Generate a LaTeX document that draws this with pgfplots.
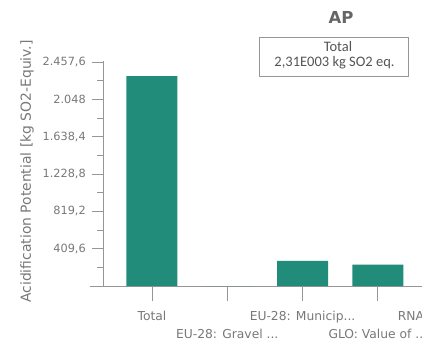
\documentclass[border=0pt]{standalone}
\usepackage{pgfplots}
\pgfplotsset{compat=1.18}
\usepackage{fontspec}
\setmainfont{DejaVu Sans}
\newfontfamily\boxfont{Carlito}
\definecolor{barcol}{RGB}{33,140,122}
\definecolor{txt}{RGB}{120,120,120}
\definecolor{axisgray}{RGB}{150,150,150}
\newcommand{\dd}{.\kern0pt.\kern0pt.}
\begin{document}
\begin{tikzpicture}
\useasboundingbox (0pt,0pt) rectangle (422pt,340pt);
\clip (0pt,0pt) rectangle (422pt,340pt);
% x axis with bars
\begin{axis}[
  at={(90pt,54pt)}, anchor=south west,
  scale only axis, width=408.3pt, height=224.9pt,
  xmin=-0.823, xmax=4.6, ymin=0, ymax=2470,
  axis x line=bottom, axis y line=none,
  axis line style={axisgray,-},
  tick align=outside,
  major tick length=15pt,
  tick style={axisgray, line width=0.8pt},
  xtick={0,1,2,3,4},
  xticklabels={Total,{\vphantom{Ag}\\EU-28: Gravel \dd},{EU-28: Municip\dd},{\vphantom{Ag}\\GLO: Value of \dd},{RNA: Electricity \dd}},
  xticklabel style={align=center, text=txt, font=\fontsize{12.3}{18}\selectfont, yshift=-7pt},
]
\addplot[ybar, bar width=51pt, bar shift=0pt, fill=barcol, draw=none]
  coordinates {(0,2306) (1,0) (2,275) (3,234) (4,0)};
\end{axis}
% y axis
\begin{axis}[
  at={(103.3pt,54pt)}, anchor=south west,
  scale only axis, width=395.1pt, height=224.9pt,
  xmin=-0.647, xmax=4.6, ymin=0, ymax=2470,
  axis x line=none, axis y line=left,
  axis line style={axisgray,-},
  tick align=outside,
  major tick length=11pt, minor tick length=6pt,
  tick style={axisgray, line width=0.8pt},
  ytick={409.6,819.2,1228.8,1638.4,2048,2457.6},
  minor ytick={204.8,614.4,1024,1433.6,1843.2,2252.8},
  yticklabel style={text=txt, font=\fontsize{11.3}{13}\selectfont, xshift=-3pt},
  /pgf/number format/.cd, use comma, 1000 sep={.}, assume math mode=true,
]
\end{axis}
\node[rotate=90, text=txt, font=\fontsize{13.9}{16}\selectfont] at (27pt,168.5pt) {Acidification Potential [kg SO2-Equiv.]};
\node[text=txt!85!black, font=\fontsize{16.5}{18}\selectfont\bfseries] at (341pt,322.5pt) {AP};
\draw[axisgray, line width=0.8pt] (259pt,264pt) rectangle (408pt,303pt);
\node[text=txt!70!black, font=\boxfont\fontsize{14.5}{16}\selectfont] at (338pt,293pt) {Total};
\node[text=txt!70!black, font=\boxfont\fontsize{14.5}{16}\selectfont] at (334.5pt,277pt) {2,31E003 kg SO2 eq.};
\end{tikzpicture}
\end{document}
